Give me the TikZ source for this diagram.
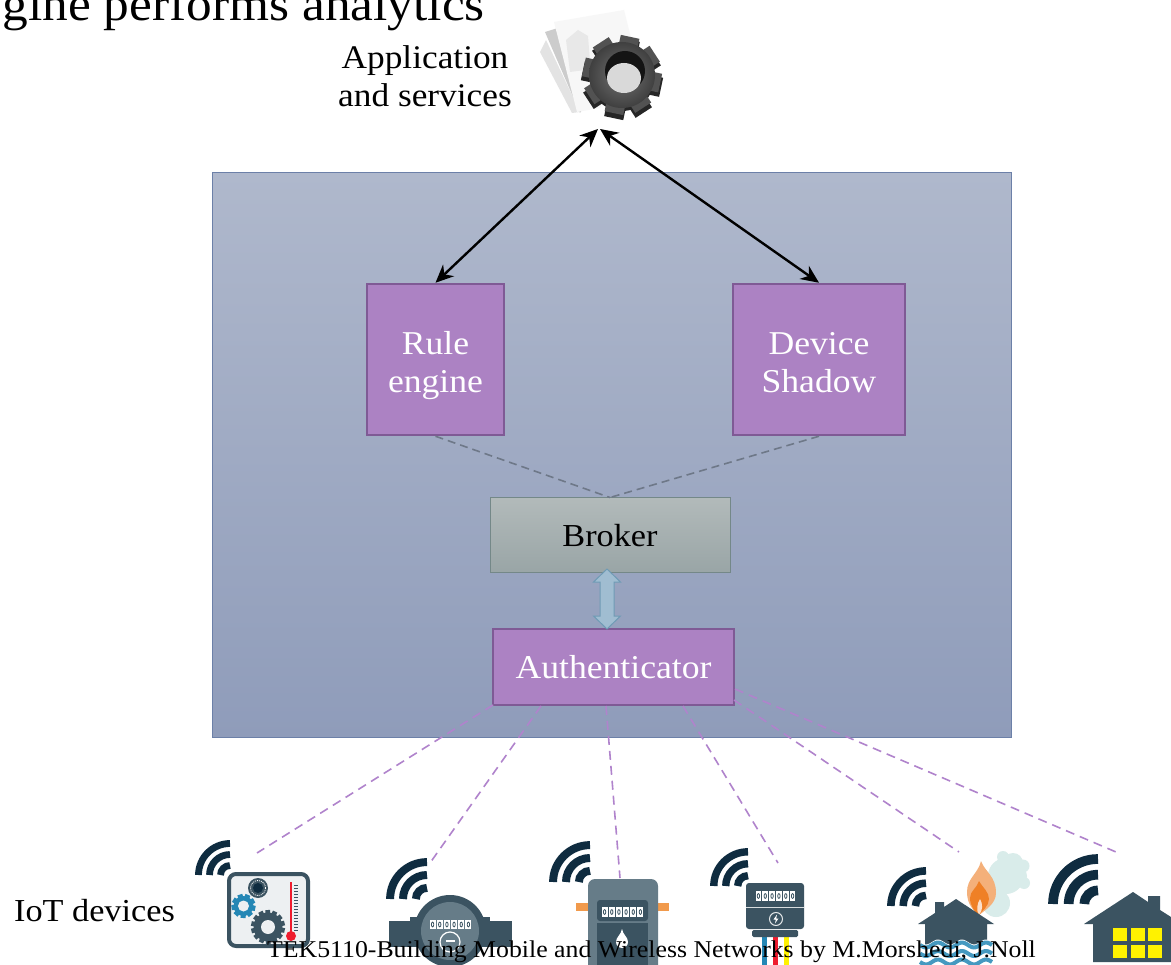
\documentclass[tikz,border=0pt]{standalone}
\usepackage{fontspec}
\setmainfont[FakeStretch=1.07]{Liberation Serif}
\usetikzlibrary{arrows.meta,calc}
\definecolor{panelT}{HTML}{AFB8CC}
\definecolor{panelB}{HTML}{8F9CBA}
\definecolor{panelL}{HTML}{6C80A8}
\definecolor{purp}{HTML}{AC82C3}
\definecolor{purpL}{HTML}{7F5A95}
\definecolor{dashP}{HTML}{B083CC}
\definecolor{brokT}{HTML}{B2BABA}
\definecolor{brokB}{HTML}{99A5A6}
\definecolor{brokL}{HTML}{748888}
\definecolor{slate}{HTML}{3B5361}
\definecolor{slateL}{HTML}{667C88}
\definecolor{navy}{HTML}{0F2C40}
\definecolor{wblue}{HTML}{2487B5}
\definecolor{ared}{HTML}{EE1C2E}
\definecolor{ayel}{HTML}{FFF200}
\definecolor{flame}{HTML}{F4B07A}
\definecolor{flameD}{HTML}{EF8026}
\definecolor{smoke}{HTML}{D9ECEA}
\definecolor{pipeO}{HTML}{F19A4C}
\definecolor{arrF}{HTML}{A0BDD1}
\definecolor{arrL}{HTML}{6F9BB5}
\definecolor{paneltint}{HTML}{EDF0F2}
\definecolor{grayd}{HTML}{6E7888}
\newcommand{\twoline}[3]{\raisebox{#1}[0pt][0pt]{\begin{tabular}{@{}c@{}}#2\\#3\end{tabular}}}
\tikzset{
  x=1pt,y=-1pt,
  panelbox/.style={draw=panelL,line width=1pt,top color=panelT,bottom color=panelB,minimum width=799pt,minimum height=564pt,inner sep=0pt},
  procbox/.style={draw=purpL,line width=2.5pt,fill=purp,text=white,font=\fontsize{33.3}{38}\selectfont,align=center,inner sep=0pt},
  brokerbox/.style={draw=brokL,line width=1pt,top color=brokT,bottom color=brokB,font=\fontsize{32}{38}\selectfont,inner sep=0pt},
  lab/.style={font=\fontsize{33}{38}\selectfont,align=center,inner sep=0pt},
  duplex/.style={line width=2.4pt,{Stealth[length=18pt,width=16pt]}-{Stealth[length=18pt,width=16pt]}},
  graylink/.style={dash pattern=on 8pt off 5pt,line width=1.6pt,draw=grayd},
  purplink/.style={dash pattern=on 9pt off 6pt,line width=1.6pt,draw=dashP},
  wifistroke/.style={draw=navy,line cap=butt}
}
% right x, bottom y, outer radius
\newcommand{\wifi}[3]{%
  \begin{scope}[shift={(#1,#2)},xscale=#3/35,yscale=#3/35]
    \foreach \r in {31.5,20.5,9.5}{
      \draw[wifistroke,line width={6.8*#3/35}] (-\r,0) arc[start angle=180,end angle=90,x radius=\r,y radius=-\r];
    }
  \end{scope}}
% cx, cy, outer, root, hole, teeth, colour, holecolour
\newcommand{\gearicon}[8]{%
  \foreach \k in {1,...,#6}{
    \pgfmathsetmacro{\ang}{360*\k/#6+12}
    \draw[#7,line width={#3*0.62*6.28/#6}] ($(#1,#2)+(\ang:#4*0.9)$) -- ($(#1,#2)+(\ang:#3)$);
  }
  \fill[#7] (#1,#2) circle[radius=#4];
  \fill[#8] (#1,#2) circle[radius=#5];
}
% x0,y0,x1,y1,n
\newcommand{\digitrow}[5]{%
  \pgfmathsetmacro{\stepw}{(#3-#1)/#5}
  \foreach \k in {1,...,#5}{
    \pgfmathsetmacro{\xa}{#1+(\k-1)*\stepw+0.6}
    \pgfmathsetmacro{\xb}{#1+\k*\stepw-0.6}
    \pgfmathsetmacro{\xc}{(\xa+\xb)/2}
    \pgfmathsetmacro{\yc}{(#2+#4)/2}
    \fill[white] (\xa,#2) rectangle (\xb,#4);
    \draw[slate,line width=0.8pt] (\xc,\yc) ellipse[x radius=1.2,y radius=2.4];
  }
}
\begin{document}
\begin{tikzpicture}
\useasboundingbox (0,0) rectangle (1171,965);
\fill[white] (0,0) rectangle (1171,965);
% heading fragment
\node[anchor=base east,inner sep=0pt,font=\fontsize{48}{54}\selectfont] (head) at (485,20.5) {gine performs analytics};
% application label and icon
\node[lab] (applabel) at (425,76) {Application\\and services};
\fill[black!18,opacity=.6] (540,52) -- (546,40) -- (580,112) -- (572,113) -- cycle;
\fill[black!20] (545,32) -- (590,18) -- (612,62) -- (580,113) -- cycle;
\fill[black!3] (554,22) -- (624,10) -- (634,50) -- (600,108) -- (577,112) -- cycle;
\fill[black!9] (566,40) -- (578,30) -- (588,36) -- (590,62) -- (585,70) -- (570,72) -- cycle;
\gearicon{622}{79}{40}{32}{5}{8}{black!85}{black!85}
\gearicon{622}{75}{39}{32}{5}{8}{black!68}{black!68}
\shade[inner color=black!55,outer color=black!75] (622,75) circle[radius=33];
\fill[black!92] (625,71) circle[radius=20];
\fill[black!15] (624,78) ellipse[x radius=17,y radius=15];
% panel and boxes
\node[panelbox] (panel) at (611.5,455) {};
\node[procbox,minimum width=137pt,minimum height=151pt] (rule) at (435.5,359.5) {\twoline{-12.3pt}{Rule}{engine}};
\node[procbox,minimum width=172pt,minimum height=151pt] (shadow) at (819,359.5) {\twoline{-12.3pt}{Device}{Shadow}};
\node[brokerbox,minimum width=240pt,minimum height=75pt] (broker) at (610,535.5) {Broker};
\node[procbox,minimum width=241pt,minimum height=76pt] (auth) at (613.5,667) {Authenticator};
% connectors inside
\coordinate (tipL) at (598,129);
\coordinate (tipR) at (600,129);
\draw[duplex] (tipL) -- (rule.north);
\draw[duplex] (tipR) -- (shadow.north);
\draw[graylink] (rule.south) -- (broker.north);
\draw[graylink] (shadow.south) -- (broker.north);
% block arrow
\draw[draw=arrL,fill=arrF,line width=1pt,line join=miter]
  (607,569) -- (620.5,582) -- (614,582) -- (614,616) -- (620.5,616) -- (607,629) -- (593.5,616) -- (600,616) -- (600,582) -- (593.5,582) -- cycle;
% device links
\coordinate (a1) at (493,705);
\coordinate (a2) at (541,706);
\coordinate (a3) at (606,706);
\coordinate (a4) at (683,706);
\coordinate (a5) at (734,700);
\coordinate (a6) at (735,689);
\coordinate (d1) at (257,853);
\coordinate (d2) at (430,863);
\coordinate (d3) at (620,878);
\coordinate (d4) at (778,863);
\coordinate (d5) at (959,852);
\coordinate (d6) at (1116,852);
\foreach \i in {1,...,6}{\draw[purplink] (a\i) -- (d\i);}
% label
\node[lab,anchor=west,font=\fontsize{32}{38}\selectfont] (iot) at (14,911) {IoT devices};
% wifi
\wifi{230}{875}{35}
\wifi{427}{899}{41}
\wifi{590}{882}{41}
\wifi{748}{886}{38}
\wifi{926}{906}{39}
\wifi{1098}{904}{50}
% device 1: sensor panel
\draw[slate,fill=paneltint,line width=4pt,rounded corners=7pt] (229,874) rectangle (308,946);
\fill[slate] (258,888) circle[radius=10];
\draw[white,line width=0.8pt,dash pattern=on 1pt off 1pt] (258,888) circle[radius=7.5];
\fill[navy] (258,888) circle[radius=5];
\gearicon{243.5}{906}{12}{10}{5.5}{9}{wblue}{paneltint}
\gearicon{268}{927}{17}{14.5}{7}{14}{slate}{paneltint}
\draw[ared,line width=2.6pt] (291,882) -- (291,936);
\fill[ared] (291,936) circle[radius=5];
\foreach \yy in {885,888,...,930}{\draw[slate,line width=0.5pt] (294,\yy) -- (298,\yy);}
% device 2: water meter
\fill[slate] (389,921) rectangle (512,947);
\fill[slate] (410,917) rectangle (490,947);
\fill[slate] (450,931) circle[radius=36];
\fill[slateL] (450,931) circle[radius=29];
\digitrow{429}{920}{472}{929}{6}
\draw[white,line width=1.2pt] (450,942) circle[radius=10];
\fill[white] (446,940) rectangle (455,942);
% device 3: gas meter
\fill[pipeO] (576,903) rectangle (590,911);
\fill[pipeO] (656,903) rectangle (669,911);
\fill[slateL,rounded corners=7pt] (588,879) rectangle (658,972);
\fill[slate,rounded corners=3pt] (597,900) rectangle (648,921);
\fill[slate] (597,923) rectangle (648,972);
\digitrow{601}{907}{644}{917}{6}
\fill[white] (622,929) .. controls (623,935) and (628,937) .. (628,942) arc[start angle=0,end angle=180,x radius=6,y radius=6] .. controls (616,937) and (621,935) .. (622,929) -- cycle;
% device 4: electricity meter
\fill[wblue] (762,937) rectangle (767,970);
\fill[ared] (773,937) rectangle (778,970);
\fill[ayel] (784,937) rectangle (789,970);
\fill[slate,rounded corners=3pt] (746,883) rectangle (804,929);
\fill[slate,rounded corners=1.5pt] (752,930) rectangle (798,937);
\draw[white!80!slate,line width=1pt] (746,907.5) -- (804,907.5);
\digitrow{755}{891}{796}{901}{6}
\draw[white!85!slate,line width=1pt] (776,919) circle[radius=6.5];
\fill[white] (777,914.5) -- (773.5,919.5) -- (775.8,919.5) -- (775,923.5) -- (778.5,918.5) -- (776.2,918.5) -- cycle;
% device 5: house with fire and flood
\fill[smoke] (1006,876) circle[radius=18];
\fill[smoke] (1003,857) circle[radius=6];
\fill[smoke] (1013,863) circle[radius=10];
\fill[smoke] (1023,866) circle[radius=6.5];
\fill[smoke] (1024,883) circle[radius=6];
\fill[smoke] (1018,876) circle[radius=9];
\fill[smoke] (996,903) circle[radius=14];
\fill[flame] (981,861) .. controls (985,872) and (996,876) .. (996,893) .. controls (996,904) and (985,910) .. (978,916) .. controls (974,910) and (967,905) .. (967,892) .. controls (967,878) and (978,874) .. (981,861) -- cycle;
\fill[flameD] (979,881) .. controls (983,888) and (989,892) .. (989,899) .. controls (989,906) and (982,911) .. (978,916) .. controls (975,911) and (970,906) .. (970,898) .. controls (970,891) and (977,888) .. (979,881) -- cycle;
\fill[flame!40!white] (980,899) .. controls (983,904) and (983,910) .. (979,915) .. controls (976,910) and (977,904) .. (980,899) -- cycle;
\fill[slate] (956,899) -- (994,924) -- (987,924) -- (987,950) -- (925,950) -- (925,924) -- (918,924) -- (935,913) -- (935,902) -- (944,902) -- (944,907) -- cycle;
\foreach \yy in {945,953.5,962}{
  \fill[white] plot[domain=920:992,samples=40] (\x,{\yy-3+2.5*sin((\x-920)*15)}) -- (992,\yy+6) -- (920,\yy+6) -- cycle;
  \draw[wblue!85!white,line width=4pt] plot[domain=920:992,samples=40] (\x,{\yy+2.5*sin((\x-920)*15)});
}
% device 6: house with windows
\fill[slate] (1133,892) -- (1148,902) -- (1148,896) -- (1160,896) -- (1160,910) -- (1182,924) -- (1182,962) -- (1093,962) -- (1093,924) -- (1084,924) -- cycle;
\foreach \xx in {1113,1130.5,1148}{
  \foreach \yy in {928,945}{
    \fill[ayel] (\xx,\yy) rectangle ++(14,12.5);
  }
}
% footer
\node[anchor=base west,inner sep=0pt,font=\fontsize{24.1}{28}\selectfont] (foot) at (267,957) {TEK5110-Building Mobile and Wireless Networks by M.Morshedi, J.Noll};
\end{tikzpicture}
\end{document}
